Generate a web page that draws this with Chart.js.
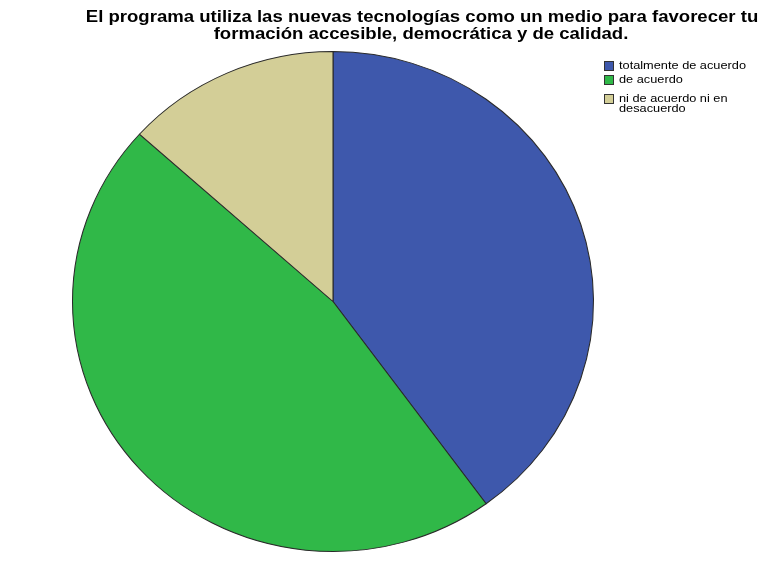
<!DOCTYPE html>
<html>
<head>
<meta charset="utf-8">
<script src="https://cdn.jsdelivr.net/npm/chart.js@4/dist/chart.umd.min.js"></script>
<style>
  html, body { margin: 0; padding: 0; background: #fff; }
  #wrap { width: 767px; height: 566px; }
</style>
</head>
<body>
<div id="wrap"><canvas id="chart"></canvas></div>
<script>
var titleLines = [
  'El programa utiliza las nuevas tecnologías como un medio para favorecer tu',
  'formación accesible, democrática y de calidad.'
];
var categories = [
  ['totalmente de acuerdo'],
  ['de acuerdo'],
  ['ni de acuerdo ni en', 'desacuerdo']
];
var counts = [6, 7, 2];
var colors = ['#3e58ac', '#30b848', '#d3ce97'];

// the original is a bit stretched sideways: the pie is an ellipse, the text wide
var PIE_SX = 1.042;
var TEXT_SX = 1.16;

var stretch = {
  id: 'stretch',
  beforeDatasetsDraw: function (chart) {
    var ctx = chart.ctx;
    var cx = (chart.chartArea.left + chart.chartArea.right) / 2;
    ctx.save();
    ctx.translate(cx, 0);
    ctx.scale(PIE_SX, 1);
    ctx.translate(-cx, 0);
  },
  afterDatasetsDraw: function (chart) {
    chart.ctx.restore();
  }
};

function wideText(ctx, txt, x, y) {
  ctx.save();
  ctx.translate(x, y);
  ctx.scale(TEXT_SX, 1);
  ctx.fillText(txt, 0, 0);
  ctx.restore();
}

// title and legend drawn by hand so they sit where the original has them
var decor = {
  id: 'decor',
  afterDraw: function (chart) {
    var ctx = chart.ctx;
    ctx.save();
    ctx.fillStyle = '#000';
    ctx.font = 'bold 16px "Liberation Sans", Arial, sans-serif';
    ctx.textAlign = 'center';
    ctx.textBaseline = 'middle';
    wideText(ctx, titleLines[0], 422, 18);
    wideText(ctx, titleLines[1], 421, 35);

    ctx.font = '11px "Liberation Sans", Arial, sans-serif';
    ctx.textAlign = 'left';
    var y = 61;
    for (var i = 0; i < categories.length; i++) {
      ctx.fillStyle = colors[i];
      ctx.fillRect(604, y, 10, 10);
      ctx.strokeStyle = '#333';
      ctx.lineWidth = 1;
      ctx.strokeRect(604.5, y + 0.5, 9, 9);
      ctx.fillStyle = '#000';
      for (var j = 0; j < categories[i].length; j++) {
        wideText(ctx, categories[i][j], 619, y + 5 + j * 10);
      }
      y += categories[i].length > 1 ? 29 : 14;
      if (i === 1) y += 5;
    }
    ctx.restore();
  }
};

new Chart(document.getElementById('chart'), {
  type: 'pie',
  data: {
    labels: categories.map(function (c) { return c.join(' '); }),
    datasets: [{
      data: counts,
      backgroundColor: colors,
      borderColor: '#2a2a2a',
      borderWidth: 1
    }]
  },
  options: {
    responsive: true,
    maintainAspectRatio: false,
    animation: false,
    layout: { padding: { left: 82, right: 183, top: 51, bottom: 14 } },
    plugins: {
      legend: { display: false },
      title: { display: false },
      tooltip: { enabled: false }
    }
  },
  plugins: [stretch, decor]
});
</script>
</body>
</html>
